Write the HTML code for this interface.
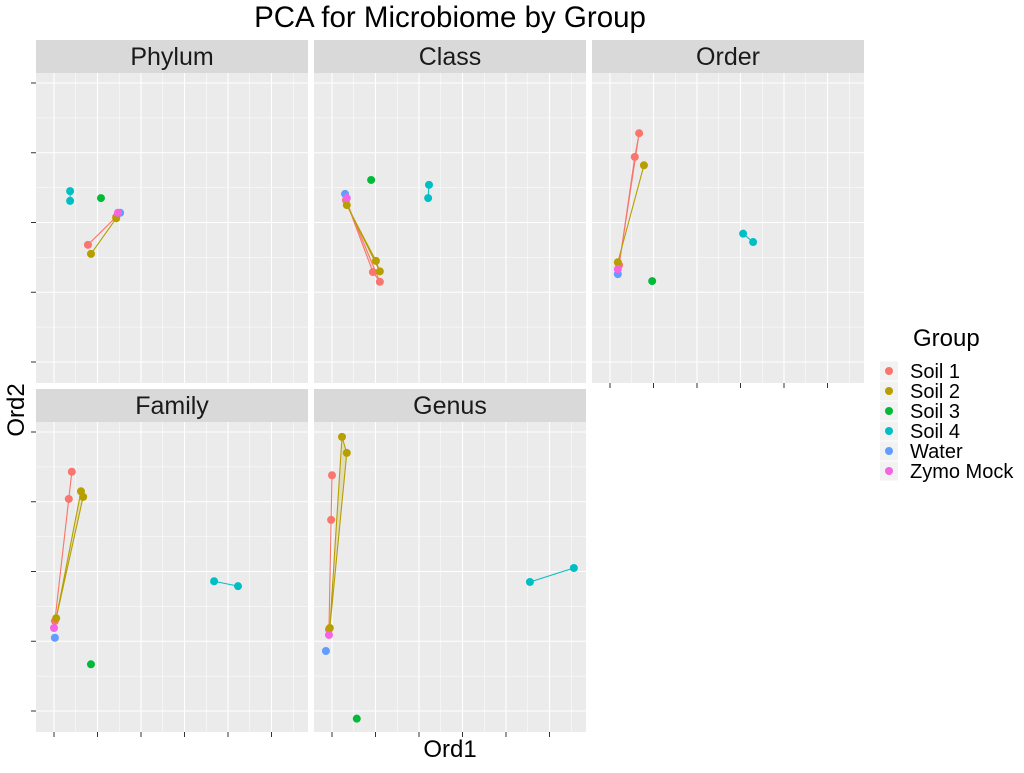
<!DOCTYPE html>
<html><head><meta charset="utf-8"><style>
body{margin:0;background:#fff;}
svg text{font-family:"Liberation Sans",sans-serif;}
</style></head><body>
<svg id="chart" width="1024" height="768" xmlns="http://www.w3.org/2000/svg">
<text x="450" y="27" font-size="29.5" text-anchor="middle" fill="#000">PCA for Microbiome by Group</text>
<text x="450" y="757" font-size="24" text-anchor="middle" fill="#000">Ord1</text>
<text x="24" y="410" font-size="24" text-anchor="middle" fill="#000" transform="rotate(-90 24 410)">Ord2</text>
<g id="legend">
<text x="913" y="346" font-size="24" fill="#000">Group</text>
</g>
</svg>
<script>
const groups = ["Soil 1","Soil 2","Soil 3","Soil 4","Water","Zymo Mock"];
const colors = ["#F8766D","#B79F00","#00BA38","#00BFC4","#619CFF","#F564E3"];
const panelNames = ["Phylum","Class","Order","Family","Genus"];
// per panel: group index, Ord1, Ord2 (in tick units)
const phylumX = [[0.78,1.43],[0.85,1.43],[1.08],[0.37,0.37],[1.52],[1.47]];
const phylumY = [[1.68,2.08],[1.55,2.06],[2.35],[2.45,2.31],[2.14],[2.14]];
const classX = [[0.32,0.94,1.10],[0.34,1.01,1.10],[0.90],[2.23,2.21],[0.30],[0.34]];
const classY = [[2.32,1.29,1.15],[2.25,1.45,1.30],[2.61],[2.54,2.35],[2.41],[2.35]];
const orderX = [[0.67,0.57,0.21],[0.78,0.18],[0.97],[3.06,3.29],[0.18],[0.18]];
const orderY = [[3.28,2.94,1.39],[2.82,1.43],[1.16],[1.84,1.72],[1.26],[1.33]];
const familyX = [[0.41,0.34,0.02],[0.62,0.67,0.05],[0.85],[3.68,4.23],[0.02],[0.0]];
const familyY = [[3.43,3.04,1.29],[3.15,3.07,1.33],[0.67],[1.86,1.79],[1.05],[1.19]];
const genusX = [[0.0,-0.02,-0.07],[0.23,0.34,-0.05],[0.57],[4.55,5.56],[-0.14],[-0.07]];
const genusY = [[3.38,2.74,1.17],[3.93,3.70,1.19],[-0.11],[1.85,2.05],[0.86],[1.09]];
const allX=[phylumX,classX,orderX,familyX,genusX];
const allY=[phylumY,classY,orderY,familyY,genusY];
const xTicks=[0,1,2,3,4,5];
const yTicks=[0,1,2,3,4];

const NS="http://www.w3.org/2000/svg";
const svg=document.getElementById('chart');
function mk(tag,attrs,parent){const e=document.createElementNS(NS,tag);for(const k in attrs)e.setAttribute(k,attrs[k]);(parent||svg).appendChild(e);return e;}
const lefts=[36,314,592,36,314];
const tops=[40,40,40,389,389];
const W=272, STRIP=33, PH=310;
const XU=43.5, YU=69.75;

panelNames.forEach((name,p)=>{
  const L=lefts[p], T=tops[p], PT=T+STRIP;
  const g=mk('g',{});
  
  
  const sx=u=>L+18+XU*u;
  const sy=v=>PT+10+YU*(4-v);
  const strip=mk('rect',{x:L,y:T,width:W,height:STRIP,fill:'#d9d9d9'},g);
  
  
  const st=mk('text',{x:L+W/2,y:T+25,'font-size':25,'text-anchor':'middle',fill:'#1a1a1a'},g);
  st.textContent=name;
  
  
  mk('rect',{x:L,y:PT,width:W,height:PH,fill:'#ebebeb'},g);
  for(let u=-0.5;u<=5.6;u+=0.5){const x=sx(u);if(x<L||x>L+W)continue;
    mk('line',{x1:x,x2:x,y1:PT,y2:PT+PH,stroke:'#fff','stroke-width':Number.isInteger(u)?1.1:0.5},g);}
  for(let v=-0.5;v<=4.6;v+=0.5){const y=sy(v);if(y<PT||y>PT+PH)continue;
    mk('line',{x1:L,x2:L+W,y1:y,y2:y,stroke:'#fff','stroke-width':Number.isInteger(v)?1.1:0.5},g);}
  if(p===0||p===3){yTicks.forEach(v=>{mk('line',{x1:L-5,x2:L,y1:sy(v),y2:sy(v),stroke:'#333','stroke-width':1},g);});}
  if(p>=2){xTicks.forEach(u=>{mk('line',{x1:sx(u),x2:sx(u),y1:PT+PH,y2:PT+PH+5,stroke:'#333','stroke-width':1},g);});}
  const X=allX[p],Y=allY[p];
  groups.forEach((gname,gi)=>{
    const xs=X[gi],ys=Y[gi];
    if(xs.length>=2){
      const pts=xs.map((x,i)=>sx(x)+','+sy(ys[i])).join(' ');
      const poly=mk('polygon',{points:pts,fill:colors[gi],'fill-opacity':0.2,stroke:colors[gi],'stroke-width':1.1},g);
      
      
    }
  });
  groups.forEach((gname,gi)=>{
    X[gi].forEach((x,i)=>{
      const c=mk('circle',{cx:sx(x),cy:sy(Y[gi][i]),r:4,fill:colors[gi]},g);
      
      
    });
  });
});
const leg=document.getElementById('legend');
groups.forEach((gname,i)=>{
  const y=371+20*i;
  const e=mk('g',{},leg);
  
  
  mk('rect',{x:880,y:y-9.5,width:18,height:19,fill:'#f2f2f2'},e);
  mk('circle',{cx:889,cy:y,r:4,fill:colors[i]},e);
  const t=mk('text',{x:910,y:y+7,'font-size':20,fill:'#000'},e);
  t.textContent=gname;
});
</script>
</body></html>
